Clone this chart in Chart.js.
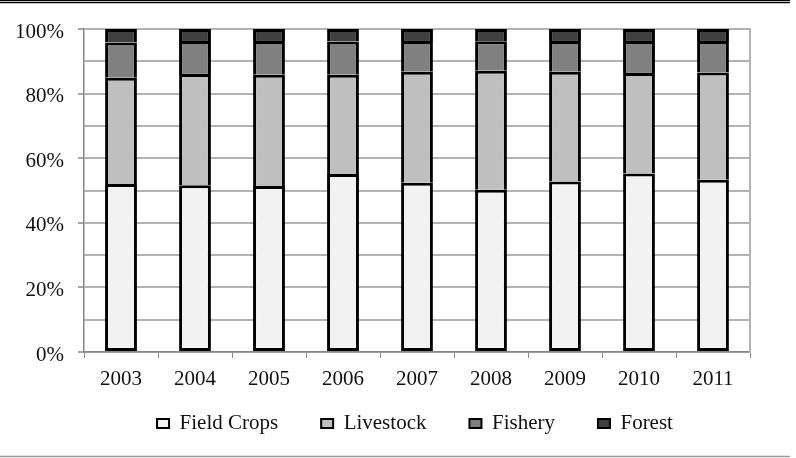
<!DOCTYPE html>
<html>
<head>
<meta charset="utf-8">
<script src="https://cdn.jsdelivr.net/npm/chart.js@4"></script>
<style>
  html, body { margin: 0; padding: 0; background: #fff; }
  canvas { display: block; }
</style>
</head>
<body>
<canvas id="shareChart" width="796" height="458"></canvas>
<script>
// data (percent of total)
const years = ['2003', '2004', '2005', '2006', '2007', '2008', '2009', '2010', '2011'];
const fieldCrops = [52.0, 51.6, 51.4, 55.1, 52.4, 50.2, 52.8, 55.3, 53.3];
const livestock = [32.9, 34.5, 34.4, 30.7, 34.4, 36.9, 34.0, 31.1, 33.2];
const fishery = [10.9, 10.2, 10.5, 10.3, 9.5, 9.1, 9.5, 9.9, 9.8];
const forest = [4.2, 3.7, 3.7, 3.9, 3.7, 3.8, 3.7, 3.7, 3.7];
const yTicks = [0, 20, 40, 60, 80, 100];

const FONT = { family: '"Liberation Serif", "Times New Roman", serif', size: 21 };
const GRID = '#b3b3b3';
const AXIS = '#868686';

// legend: small box in the layout, then moved to where the reference has it
const legendPlace = {
    id: 'legendPlace',
    beforeLayout(chart) {
        const lg = chart.legend;
        if (lg && !lg._patched) {
            const fit = lg.fit;
            lg.fit = function () {
                fit.call(this);
                this.height = 68;
            };
            lg._patched = true;
        }
    },
    afterLayout(chart) {
        const lg = chart.legend;
        if (!lg) return;
        lg.top = 370;
        lg.bottom = 458;
        lg.height = 88;
        lg.left = 40;
        lg.right = 790;
        lg.width = 750;
    }
};

// page rules above and below the figure
const pageRules = {
    id: 'pageRules',
    afterDraw(chart) {
        const c = chart.ctx;
        c.save();
        c.strokeStyle = '#000';
        c.lineWidth = 1;
        c.beginPath(); c.moveTo(0, 0.5); c.lineTo(790, 0.5); c.stroke();
        c.lineWidth = 1.5;
        c.beginPath(); c.moveTo(0, 2.6); c.lineTo(790, 2.6); c.stroke();
        c.strokeStyle = '#9a9a9a';
        c.lineWidth = 1.5;
        c.beginPath(); c.moveTo(0, 456.5); c.lineTo(790, 456.5); c.stroke();
        c.restore();
    }
};

function series(label, data, color, bottom) {
    return {
        label: label,
        data: data,
        backgroundColor: color,
        borderColor: '#000',
        borderWidth: 3,
        borderSkipped: bottom ? false : 'bottom',
        barPercentage: 0.43,
        categoryPercentage: 1,
    };
}

new Chart(document.getElementById('shareChart'), {
    type: 'bar',
    data: {
        labels: years,
        datasets: [
            series('Field Crops', fieldCrops, '#f2f2f2', true),
            series('Livestock', livestock, '#bfbfbf'),
            series('Fishery', fishery, '#808080'),
            series('Forest', forest, '#404040'),
        ]
    },
    options: {
        responsive: false,
        animation: false,
        layout: { padding: { top: 29, right: 46, bottom: 0, left: 0 } },
        plugins: {
            tooltip: { enabled: false },
            legend: {
                display: true,
                position: 'bottom',
                labels: {
                    color: '#111',
                    font: FONT,
                    boxWidth: 12,
                    boxHeight: 9,
                    padding: 43,
                    generateLabels(chart) {
                        const items = Chart.defaults.plugins.legend.labels.generateLabels(chart);
                        items.forEach(it => { it.lineWidth = 2; });
                        return items;
                    }
                }
            }
        },
        scales: {
            x: {
                stacked: true,
                offset: true,
                grid: {
                    offset: true,
                    drawOnChartArea: false,
                    tickLength: 6,
                    tickColor: AXIS,
                },
                border: { color: AXIS, width: 1.5 },
                ticks: { color: '#111', font: FONT, padding: 9, maxRotation: 0 },
                afterFit(scale) { scale.height = 38; }
            },
            y: {
                stacked: true,
                min: 0,
                max: 100,
                grid: {
                    color: GRID,
                    lineWidth: 2,
                    tickLength: 6,
                    tickColor: ctx => (yTicks.includes(ctx.tick.value) ? AXIS : 'rgba(0,0,0,0)'),
                    tickWidth: 1.5,
                },
                border: { color: AXIS, width: 1.5 },
                ticks: {
                    stepSize: 10,
                    autoSkip: false,
                    color: '#111',
                    font: FONT,
                    padding: 14,
                    labelOffset: 3,
                    callback: v => (yTicks.includes(v) ? v + '%' : '')
                },
                afterFit(scale) { scale.width = 84; }
            },
            yRight: {
                position: 'right',
                min: 0,
                max: 100,
                grid: { drawOnChartArea: false, drawTicks: false },
                border: { color: GRID, width: 2 },
                ticks: { display: false },
                afterFit(scale) { scale.width = 0; }
            }
        }
    },
    plugins: [legendPlace, pageRules]
});
</script>
</body>
</html>
